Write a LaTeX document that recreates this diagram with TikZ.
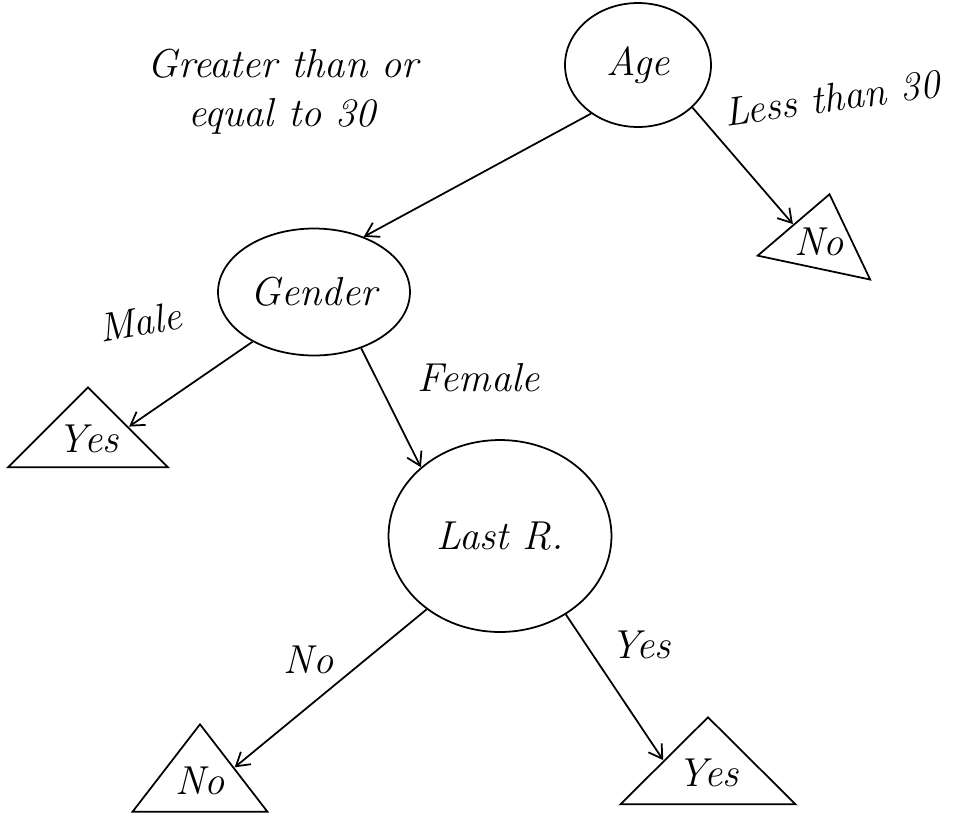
\documentclass[tikz,border=0pt]{standalone}
\usetikzlibrary{arrows.meta,shapes.geometric}

\begin{document}
\begin{tikzpicture}[
    x=0.02cm, y=-0.02cm,
    >={Straight Barb[length=2.6mm,width=3.2mm]},
    every node/.style={font=\fontsize{23}{28}\selectfont\itshape},
    dec/.style={draw, ellipse, line width=1pt, inner sep=0pt},
    leaf/.style={draw, isosceles triangle, isosceles triangle stretches, shape border rotate=90, line width=1pt, inner xsep=-9pt, inner ysep=-3pt, anchor=apex},
    br/.style={->, line width=1pt},
  ]
    \useasboundingbox (0,0) rectangle (978,816);
    % splits
    \node[dec, minimum width=2.92cm, minimum height=2.48cm] (age) at (638,65) {Age};
    \node[dec, minimum width=3.84cm, minimum height=2.54cm] (gender) at (314,292) {Gender};
    \node[dec, minimum width=4.46cm, minimum height=3.84cm] (lastr) at (500,536) {Last R.};
    % leaves
    \node[leaf, minimum width=2.3cm, minimum height=1.5cm, rotate=-12] (no1) at (830,192) {\rotatebox{12}{No}};
    \node[leaf, minimum width=3.2cm, minimum height=1.6cm] (yes1) at (88,385) {Yes};
    \node[leaf, minimum width=2.7cm, minimum height=1.75cm] (no2) at (200,722) {No};
    \node[leaf, minimum width=3.5cm, minimum height=1.74cm] (yes2) at (708,715) {Yes};
    % branches
    \draw[br] (age.226) -- (gender.48);
    \node[align=left] (gelbl) at (283,92) {Greater than or\\ \quad equal to 30};
    \node[rotate=8] (ltlbl) at (832,98) {Less than 30};
    \draw[br] (age.322) -- (no1.left side);
    \draw[br] (gender.219) -- (yes1.right side);
    \node[rotate=10] (mlbl) at (140,322) {Male};
    \draw[br] (gender.310) -- node[right, pos=0.25, xshift=20pt] {Female} (lastr.139);
    \draw[br] (lastr.225) -- node[above left, pos=0.45] {No} (no2.right side);
    \draw[br] (lastr.310) -- node[above right, pos=0.35, xshift=2pt] {Yes} (yes2.left side);
  \end{tikzpicture}
\end{document}
